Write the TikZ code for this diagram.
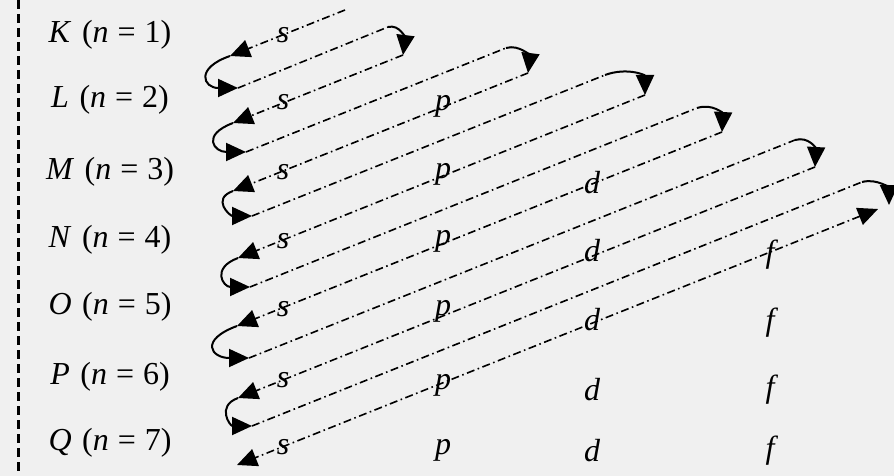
\documentclass[tikz,border=0pt]{standalone}
\usepackage{fontspec}
\setmainfont{Liberation Serif}
\usetikzlibrary{arrows.meta}
\definecolor{bg}{RGB}{240,240,240}
\newcommand{\lbl}[2]{\textit{#1}\hspace{0.33em}(\textit{n}\hspace{0.28em}=\hspace{0.28em}#2)}
\begin{document}
\begin{tikzpicture}[x=1pt,y=-1pt,
  dd/.style={line width=1.6pt, dash pattern=on 8pt off 3.5pt on 1.6pt off 3.5pt},
  cv/.style={line width=2pt},
  tip/.style={-{Triangle[length=20pt,width=18pt]}},
  lab/.style={inner sep=0pt, font=\fontsize{32}{38}\selectfont},
  orb/.style={inner sep=0pt, font=\fontsize{32}{38}\selectfont\itshape}]
\useasboundingbox[fill=bg] (0,0) rectangle (894,476);
% left dashed rule
\coordinate (vt) at (18,0);
\coordinate (vb) at (18,476);
\draw[line width=3pt, dash pattern=on 9pt off 5pt] (vt) -- (vb);
% row labels
\node[lab] (lK) at (110,35)  {\lbl{K}{1}};
\node[lab] (lL) at (110,100) {\lbl{L}{2}};
\node[lab] (lM) at (110,172) {\lbl{M}{3}};
\node[lab] (lN) at (110,240) {\lbl{N}{4}};
\node[lab] (lO) at (110,307) {\lbl{O}{5}};
\node[lab] (lP) at (110,377) {\lbl{P}{6}};
\node[lab] (lQ) at (110,443) {\lbl{Q}{7}};
% orbitals
\node[orb] (s1) at (283,35)  {s};
\node[orb] (s2) at (283,102) {s};
\node[orb] (s3) at (283,172) {s};
\node[orb] (s4) at (283,241) {s};
\node[orb] (s5) at (283,309) {s};
\node[orb] (s6) at (283,380) {s};
\node[orb] (s7) at (283,447) {s};
\node[orb] (p2) at (443,106) {p};
\node[orb] (p3) at (443,174) {p};
\node[orb] (p4) at (443,241) {p};
\node[orb] (p5) at (443,311) {p};
\node[orb] (p6) at (443,385) {p};
\node[orb] (p7) at (443,450) {p};
\node[orb] (d3) at (592,183) {d};
\node[orb] (d4) at (592,251) {d};
\node[orb] (d5) at (592,320) {d};
\node[orb] (d6) at (592,390) {d};
\node[orb] (d7) at (592,451) {d};
\node[orb] (f4) at (770,255) {f};
\node[orb] (f5) at (770,323) {f};
\node[orb] (f6) at (770,390) {f};
\node[orb] (f7) at (770,451) {f};
% descending diagonals
\coordinate (du1) at (345,10);  \coordinate (dl1) at (230,56);
\coordinate (du2) at (403,55);  \coordinate (dl2) at (233,123);
\coordinate (du3) at (528,73);  \coordinate (dl3) at (233,191);
\coordinate (du4) at (645,95);  \coordinate (dl4) at (238,258);
\coordinate (du5) at (722,132); \coordinate (dl5) at (237,326);
\coordinate (du6) at (815,167); \coordinate (dl6) at (238,398);
\coordinate (du7) at (878,209); \coordinate (dl7) at (237,465);
% ascending return lines
\coordinate (rl1) at (238,88);  \coordinate (ru1) at (388,27);
\coordinate (rl2) at (246,152); \coordinate (ru2) at (506,48);
\coordinate (rl3) at (252,216); \coordinate (ru3) at (605,75);
\coordinate (rl4) at (250,287); \coordinate (ru4) at (697,108);
\coordinate (rl5) at (249,358); \coordinate (ru5) at (795,140);
\coordinate (rl6) at (252,426); \coordinate (ru6) at (862,182);
\coordinate (rc6e) at (889,205);
\foreach \i in {1,...,6} {
  \draw[dd,tip] (du\i) -- (dl\i);
  \draw[dd] (rl\i) -- (ru\i);
}
\draw[dd,{Triangle[length=20pt,width=18pt]}-{Triangle[length=20pt,width=18pt]}] (du7) -- (dl7);
% left turning curves
\draw[cv,tip] (dl1) .. controls +(-35,12) and +(-35,0) .. (rl1);
\draw[cv,tip] (dl2) .. controls +(-32,12) and +(-32,0) .. (rl2);
\draw[cv,tip] (dl3) .. controls +(-22,8) and +(-22,0) .. (rl3);
\draw[cv,tip] (dl4) .. controls +(-27,10) and +(-27,0) .. (rl4);
\draw[cv,tip] (dl5) .. controls +(-38,14) and +(-38,0) .. (rl5);
\draw[cv,tip] (dl6) .. controls +(-22,8) and +(-22,0) .. (rl6);
% right turning curves
\draw[cv,tip] (ru1) .. controls +(12,-3) and +(2,-16) .. (du2);
\draw[cv,tip] (ru2) .. controls +(14,-4) and +(2,-16) .. (du3);
\draw[cv,tip] (ru3) .. controls +(22,-8) and +(0,-20) .. (du4);
\draw[cv,tip] (ru4) .. controls +(16,-5) and +(1,-18) .. (du5);
\draw[cv,tip] (ru5) .. controls +(14,-4) and +(1,-18) .. (du6);
\draw[cv,tip] (ru6) .. controls +(16,-4) and +(0,-16) .. (rc6e);
\end{tikzpicture}
\end{document}
